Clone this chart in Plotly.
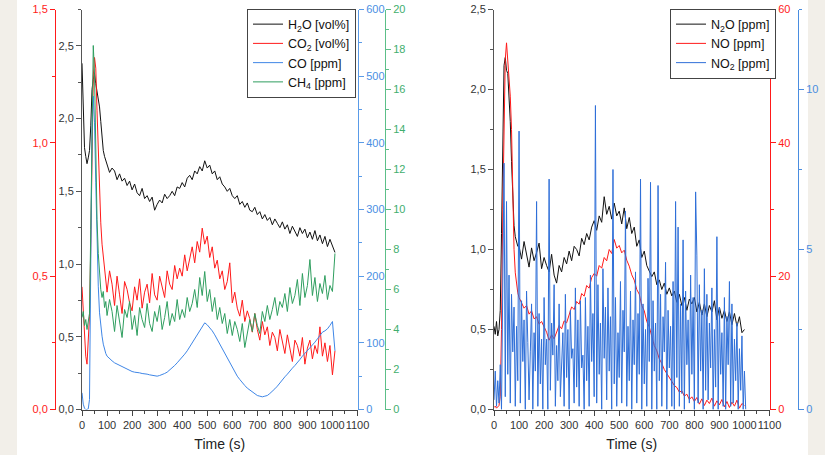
import plotly.graph_objects as go

# ---------------- DATA ----------------
# left panel sample times (s)
t_left = list(range(0, 100, 5)) + list(range(100, 1011, 10))

h2o_vol = [2.38, 2.02, 1.80, 1.74, 1.69, 1.73, 1.78, 1.95, 2.20, 2.27, 2.31, 2.24, 2.19, 2.13, 2.08, 1.98, 1.86, 1.78, 1.74, 1.71,
           1.68, 1.63, 1.66, 1.64, 1.58, 1.62, 1.57, 1.59, 1.54, 1.57,
           1.51, 1.55, 1.49, 1.47, 1.52, 1.45, 1.47, 1.43, 1.46, 1.37,
           1.41, 1.44, 1.42, 1.48, 1.45, 1.47, 1.50, 1.47, 1.53, 1.52,
           1.56, 1.53, 1.59, 1.61, 1.58, 1.64, 1.62, 1.67, 1.64, 1.71,
           1.66, 1.68, 1.62, 1.64, 1.58, 1.60, 1.55, 1.53, 1.50, 1.52,
           1.47, 1.45, 1.47, 1.41, 1.43, 1.39, 1.42, 1.37, 1.36, 1.39,
           1.34, 1.36, 1.31, 1.34, 1.30, 1.32, 1.27, 1.31, 1.28, 1.25,
           1.29, 1.24, 1.27, 1.21, 1.26, 1.23, 1.19, 1.25, 1.21, 1.24,
           1.18, 1.22, 1.17, 1.23, 1.16, 1.20, 1.14, 1.19, 1.12, 1.17,
           1.13, 1.08]

co2_vol = [0.46, 0.38, 0.27, 0.20, 0.17, 0.24, 0.35, 0.62, 1.05, 1.25, 1.32, 1.28, 1.12, 0.95, 0.82, 0.70, 0.62, 0.57, 0.52, 0.48,
           0.44, 0.52, 0.47, 0.39, 0.50, 0.43, 0.36, 0.48, 0.45, 0.40,
           0.37, 0.46, 0.41, 0.49, 0.38, 0.44, 0.47, 0.40, 0.51, 0.43,
           0.41, 0.50, 0.46, 0.42, 0.52, 0.47, 0.45, 0.54, 0.49, 0.53,
           0.50, 0.58, 0.52, 0.56, 0.61, 0.55, 0.63, 0.59, 0.68, 0.62,
           0.65, 0.57, 0.61, 0.53, 0.56, 0.49, 0.52, 0.45, 0.48, 0.55,
           0.40, 0.44, 0.38, 0.35, 0.41, 0.33, 0.37, 0.34, 0.29, 0.36,
           0.30, 0.26, 0.33, 0.28, 0.31, 0.24, 0.29, 0.27, 0.22, 0.30,
           0.25, 0.21, 0.28, 0.23, 0.18, 0.26, 0.24, 0.20, 0.27, 0.17,
           0.23, 0.26, 0.19, 0.24, 0.21, 0.31, 0.20, 0.25, 0.18, 0.24,
           0.13, 0.22]

co_ppm = [25, 8, 2, 0, 0, 1, 15, 200, 420, 470, 430, 340, 240, 185, 145, 125, 110, 98, 88, 84,
          80, 76, 73, 70, 68, 66, 64, 62, 60, 58,
          57, 56, 56, 55, 54, 54, 53, 52, 51, 50,
          50, 51, 52, 54, 56, 59, 62, 66, 70, 74,
          78, 83, 88, 94, 100, 106, 112, 119, 126, 130,
          127, 123, 118, 112, 105, 98, 90, 83, 76, 69,
          62, 56, 50, 45, 40, 36, 32, 29, 26, 23,
          21, 20, 19, 20, 21, 24, 27, 31, 35, 40,
          44, 49, 53, 58, 62, 66, 70, 75, 80, 84,
          88, 92, 96, 101, 106, 112, 116, 118, 121, 126,
          132, 88]

ch4_ppm = [4.6, 4.9, 4.2, 4.5, 4.0, 4.4, 4.8, 9.0, 15.5, 18.2, 16.8, 12.5, 9.5, 7.8, 6.6, 6.0, 5.6, 5.9, 5.1, 5.4,
           4.7, 5.5, 4.9, 3.9, 5.2, 4.4, 3.6, 5.0, 4.6, 5.4,
           4.0, 4.7, 3.7, 5.1, 4.5, 4.1, 5.3, 4.3, 3.9, 4.9,
           4.4, 5.2, 4.0, 4.6, 5.4, 4.2, 4.8, 4.4, 5.5, 4.5,
           5.0, 4.6, 5.6, 4.9, 5.3, 6.0, 5.1, 6.6, 5.7, 6.9,
           5.4, 6.0, 4.9, 5.6, 4.5, 5.1, 4.3, 4.8, 3.8, 4.5,
           3.7, 4.4, 4.0, 3.4, 4.3, 3.1, 3.8, 4.5, 3.9, 4.8,
           4.2, 3.8, 4.9, 4.4, 5.2, 4.5, 5.0, 5.6, 4.7, 5.4,
           5.1, 5.8, 4.9, 6.1, 5.3, 5.7, 6.5, 5.2, 6.8, 5.6,
           6.2, 7.5, 5.7, 6.6, 5.4, 6.3, 5.8, 6.7, 5.5, 6.2,
           5.9, 7.8]

# right panel sample times (s)
t_right = list(range(0, 100, 5)) + list(range(100, 1001, 10))

n2o_ppm = [0.52, 0.47, 0.55, 0.46, 0.50, 0.62, 1.10, 1.85, 2.15, 2.20, 2.12, 2.10, 1.95, 1.80, 1.55, 1.30, 1.15, 1.08, 1.05, 1.02,
           1.02, 0.94, 1.05, 0.97, 0.89, 1.01, 0.93, 0.98, 1.04, 0.88,
           0.95, 0.90, 0.86, 0.97, 0.84, 0.79, 0.90, 0.86, 0.95, 0.91,
           0.99, 0.93, 1.02, 1.00, 0.96, 1.07, 1.03, 1.10, 1.06, 1.14,
           1.18, 1.12, 1.21, 1.17, 1.33, 1.22, 1.27, 1.19, 1.29, 1.21,
           1.24, 1.16, 1.26, 1.13, 1.20, 1.10, 1.14, 1.02, 1.06, 0.95,
           0.99, 0.90, 0.87, 0.83, 0.86, 0.78, 0.81, 0.75, 0.79, 0.72,
           0.76, 0.71, 0.74, 0.67, 0.72, 0.65, 0.70, 0.62, 0.69, 0.66,
           0.70, 0.61, 0.67, 0.59, 0.66, 0.58, 0.65, 0.61, 0.68, 0.56,
           0.64, 0.57, 0.62, 0.55, 0.61, 0.53, 0.60, 0.52, 0.58, 0.48,
           0.50]

no_ppm = [0.3, 0.5, 0.2, 0.4, 0.6, 2.0, 12.0, 30.0, 46.0, 52.5, 55.0, 52.0, 50.5, 47.0, 42.0, 33.0, 24.0, 20.5, 18.5, 17.5,
          16.8, 16.0, 15.2, 15.6, 14.3, 14.8, 13.6, 13.9, 12.8, 13.2,
          12.3, 11.6, 10.4, 11.2, 10.6, 11.5, 12.6, 12.1, 13.3, 13.0,
          14.2, 15.4, 15.0, 16.2, 15.8, 17.4, 17.0, 18.6, 18.2, 19.8,
          20.4, 20.0, 21.6, 21.2, 22.8, 22.3, 24.0, 23.4, 25.5, 24.2,
          24.6, 23.5, 23.9, 22.4, 21.5, 20.2, 19.4, 18.0, 17.3, 15.6,
          14.8, 13.2, 12.4, 10.8, 9.6, 8.8, 7.6, 6.9, 6.0, 5.4,
          4.8, 4.2, 3.6, 3.3, 2.6, 2.8, 2.0, 2.3, 1.5, 1.9,
          1.2, 1.8, 0.8, 1.6, 0.6, 1.4, 0.9, 1.7, 0.5, 1.3,
          0.7, 1.5, 0.4, 1.2, 0.3, 1.1, 0.5, 1.4, 0.2, 0.9,
          0.6]

t_no2 = list(range(0, 1006, 5))
no2_ppm = [0.3, 1.2, 0.1, 0.9, 0.2, 1.4, 0.0, 3.0, 7.7, 0.4,
           6.5, 1.1, 4.2, 0.2, 3.6, 1.8, 3.2, 0.1, 2.6, 0.9,
           8.7, 0.2, 3.4, 1.5, 2.8, 0.0, 3.7, 2.1, 0.3, 1.8,
           3.3, 0.0, 2.4, 1.2, 6.5, 0.1, 3.0, 0.8, 2.2, 0.0,
           3.5, 1.4, 2.2, 0.0, 7.2, 0.6, 2.7, 1.7, 3.9, 0.1,
           2.0, 0.9, 3.3, 0.4, 1.5, 2.4, 0.1, 3.6, 1.0, 2.5,
           0.0, 3.1, 1.6, 1.9, 0.2, 3.8, 0.7, 2.8, 0.1, 3.4,
           1.3, 1.7, 0.0, 3.5, 0.9, 2.6, 0.1, 4.2, 1.5, 3.0,
           0.4, 9.5, 0.2, 3.9, 1.1, 2.7, 0.0, 4.4, 1.6, 3.2,
           0.3, 3.8, 1.2, 2.9, 0.0, 7.5, 0.8, 3.5, 0.1, 2.4,
           1.0, 4.0, 0.2, 3.1, 1.8, 6.2, 0.1, 2.6, 0.9, 3.7,
           0.0, 2.8, 1.4, 4.3, 0.2, 3.0, 1.1, 7.2, 0.0, 3.3,
           0.8, 2.5, 0.1, 4.1, 1.5, 7.1, 0.0, 3.4, 1.2, 2.7,
           0.0, 7.0, 0.9, 3.6, 0.1, 2.9, 1.8, 4.6, 0.0, 3.1,
           1.3, 2.6, 0.1, 4.0, 0.0, 6.5, 1.0, 5.7, 0.1, 3.3,
           0.5, 5.3, 0.0, 3.7, 1.4, 2.8, 0.2, 4.2, 1.1, 3.5,
           0.0, 6.8, 4.8, 0.2, 3.9, 1.2, 3.1, 0.0, 4.4, 0.6,
           3.6, 0.3, 2.7, 1.3, 3.8, 0.0, 2.5, 0.7, 5.4, 0.0,
           3.2, 1.1, 2.4, 0.1, 3.5, 0.0, 2.9, 1.4, 4.0, 0.1,
           3.3, 0.2, 2.2, 0.9, 2.7, 0.0, 1.9, 0.6, 2.3, 0.0,
           1.2, 0.0]

legend_left = ["H<sub>2</sub>O [vol%]", "CO<sub>2</sub> [vol%]", "CO [ppm]", "CH<sub>4</sub> [ppm]"]
legend_right = ["N<sub>2</sub>O [ppm]", "NO [ppm]", "NO<sub>2</sub> [ppm]"]
x_title = "Time (s)"

# ---------------- LAYOUT HELPERS ----------------
W, H = 825, 455
FONT = "Liberation Sans, Arial, sans-serif"


def px(x):
    return x / W


def py(y):
    return 1 - y / H


YDOM = [py(409.5), py(9.5)]

C_BLACK = "#111111"
C_RED = "#ff1a1a"
C_BLUE = "#3f86e6"
C_GREEN = "#2f9e5f"
C_NO2 = "#2f6fd8"


def yax(color, labelcolor, rng, dtick, minor, fmt, **kw):
    d = dict(range=rng, dtick=dtick, tick0=0, showline=True, linecolor=color, linewidth=1,
             ticks="outside", ticklen=5, tickwidth=1, tickcolor=color,
             minor=dict(dtick=minor, tick0=0, ticks="outside", ticklen=3, tickcolor=color),
             showgrid=False, zeroline=False, tickformat=fmt, automargin=False,
             tickfont=dict(size=11, color=labelcolor, family=FONT), fixedrange=True)
    d.update(kw)
    return d


def xax(domain, anchor):
    return dict(domain=domain, anchor=anchor, range=[0, 1100], dtick=100, tick0=0,
                showline=True, linecolor="#444", linewidth=1, ticks="outside", ticklen=5,
                tickcolor="#444", minor=dict(dtick=50, tick0=0, ticks="outside", ticklen=3, tickcolor="#444"),
                showgrid=False, zeroline=False, tickformat="d", tickangle=0, automargin=False,
                tickfont=dict(size=11, color="#333", family=FONT), fixedrange=True,
                title=dict(text=x_title, font=dict(size=14, color="#222", family=FONT), standoff=9))


fig = go.Figure()

# left panel
fig.add_trace(go.Scatter(x=t_left, y=h2o_vol, name=legend_left[0], mode="lines",
                         line=dict(color=C_BLACK, width=1), xaxis="x", yaxis="y", legend="legend"))
fig.add_trace(go.Scatter(x=t_left, y=co2_vol, name=legend_left[1], mode="lines",
                         line=dict(color=C_RED, width=1), xaxis="x", yaxis="y2", legend="legend"))
fig.add_trace(go.Scatter(x=t_left, y=co_ppm, name=legend_left[2], mode="lines",
                         line=dict(color=C_BLUE, width=1), xaxis="x", yaxis="y3", legend="legend"))
fig.add_trace(go.Scatter(x=t_left, y=ch4_ppm, name=legend_left[3], mode="lines",
                         line=dict(color=C_GREEN, width=1), xaxis="x", yaxis="y4", legend="legend"))

# right panel
fig.add_trace(go.Scatter(x=t_right, y=n2o_ppm, name=legend_right[0], mode="lines",
                         line=dict(color=C_BLACK, width=1), xaxis="x2", yaxis="y5", legend="legend2"))
fig.add_trace(go.Scatter(x=t_right, y=no_ppm, name=legend_right[1], mode="lines",
                         line=dict(color=C_RED, width=1), xaxis="x2", yaxis="y6", legend="legend2"))
fig.add_trace(go.Scatter(x=t_no2, y=no2_ppm, name=legend_right[2], mode="lines",
                         line=dict(color=C_NO2, width=1), xaxis="x2", yaxis="y7", legend="legend2"))

legend_common = dict(xanchor="right", yanchor="top", bgcolor="white", bordercolor="#444", borderwidth=1,
                     font=dict(size=12.5, color="#111", family=FONT), itemwidth=30, tracegroupgap=0,
                     itemclick=False, itemdoubleclick=False)

fig.update_layout(
    width=W, height=H, margin=dict(l=0, r=0, t=0, b=0, autoexpand=False),
    paper_bgcolor="#f2efe9", plot_bgcolor="rgba(0,0,0,0)",
    separators=",.", font=dict(family=FONT), showlegend=True,
    shapes=[dict(type="rect", xref="paper", yref="paper", x0=px(17), x1=px(808), y0=0, y1=1,
                 fillcolor="white", line=dict(width=0), layer="below")],
    xaxis=xax([px(82), px(357.5)], "y"),
    xaxis2=xax([px(494), px(769.5)], "y5"),
    yaxis=yax("#555", "#333", [0, 2.75], 0.5, 0.25, ".1f", domain=YDOM, anchor="x"),
    yaxis2=yax(C_RED, C_RED, [0, 1.5], 0.5, 0.25, ".1f", overlaying="y", anchor="free",
               position=px(55), side="left"),
    yaxis3=yax("#5a9be8", "#4a8fe3", [0, 600], 100, 50, "d", overlaying="y", anchor="free",
               position=px(358), side="right"),
    yaxis4=yax("#5cbf88", "#3fae6e", [0, 20], 2, 1, "d", overlaying="y", anchor="free",
               position=px(385), side="right"),
    yaxis5=yax("#555", "#333", [0, 2.5], 0.5, 0.25, ".1f", domain=YDOM, anchor="x2"),
    yaxis6=yax(C_RED, C_RED, [0, 60], 20, 10, "d", overlaying="y5", anchor="free",
               position=px(770), side="right"),
    yaxis7=yax("#4a8de0", "#4a8de0", [0, 12.5], 5, 2.5, "d", overlaying="y5", anchor="free",
               position=px(798), side="right"),
    legend=dict(x=px(356), y=py(8.5), **legend_common),
    legend2=dict(x=px(776), y=py(8.5), **legend_common),
)

fig.write_html("out.html")
